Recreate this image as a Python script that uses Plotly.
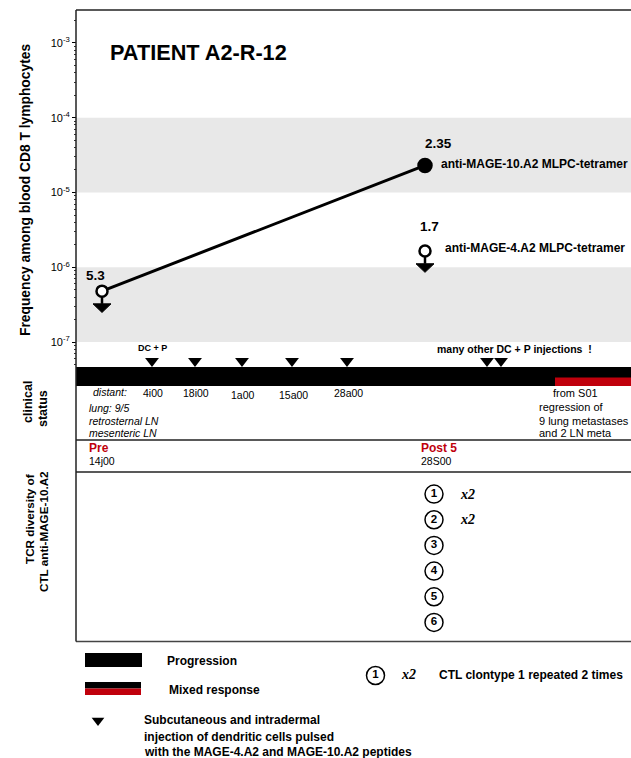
import numpy as np
import plotly.graph_objects as go

# ---------------- data ----------------
# Tetramer frequencies (among blood CD8 T lymphocytes)
time_pre = 102          # timeline position of "Pre" sample
time_post = 425         # timeline position of "Post 5" sample
mage10_x = [time_pre, time_post]
mage10_y = [4.8e-7, 2.3e-5]
mage10_labels = ["5.3", "2.35"]
mage10_below_limit = [True, False]
mage4_x = [time_post]
mage4_y = [1.65e-6]
mage4_labels = ["1.7"]

# injections (DC + P) along the timeline
inj_x = [152, 195, 242, 292, 347, 487, 501]
inj_dates = ["4i00", "18i00", "1a00", "15a00", "28a00"]
mixed_start = 555       # start of mixed response ("from S01")
timeline_start = 76
timeline_end = 631

# TCR diversity (Post 5)
clonotypes = [1, 2, 3, 4, 5, 6]
clone_repeats = [2, 2, 1, 1, 1, 1]

ytick_vals = [1e-7, 1e-6, 1e-5, 1e-4, 1e-3]
ytick_text = ["10<sup>-7</sup>", "10<sup>-6</sup>", "10<sup>-5</sup>",
              "10<sup>-4</sup>", "10<sup>-3</sup>"]
bands = [(1e-7, 1e-6), (1e-5, 1e-4)]

# ---------------- style ----------------
W, H = 631, 758
FONT = "Liberation Sans"
SERIF = "Liberation Serif"
RED = "#c0000c"
GREY = "#e8e8e8"

fig = go.Figure()

# grey bands
for lo, hi in bands:
    fig.add_trace(go.Scatter(
        x=[timeline_start, timeline_end, timeline_end, timeline_start, timeline_start],
        y=[lo, lo, hi, hi, lo], fill="toself", fillcolor=GREY,
        line=dict(width=0), mode="lines", hoverinfo="skip",
        xaxis="x", yaxis="y", showlegend=False))

# below-detection arrows (stem + flat triangle)
def down_arrow(x, v):
    L = np.log10(v)
    top = 10 ** (L - 0.17)
    tip = 10 ** (L - 0.285)
    fig.add_trace(go.Scatter(x=[x, x], y=[v, top], mode="lines",
                             line=dict(color="black", width=2.5),
                             xaxis="x", yaxis="y", showlegend=False, hoverinfo="skip"))
    fig.add_trace(go.Scatter(x=[x - 9, x + 9, x, x - 9], y=[top, top, tip, top],
                             mode="lines", fill="toself", fillcolor="black",
                             line=dict(color="black", width=1),
                             xaxis="x", yaxis="y", showlegend=False, hoverinfo="skip"))

for x, v, b in zip(mage10_x, mage10_y, mage10_below_limit):
    if b:
        down_arrow(x, v)
for x, v in zip(mage4_x, mage4_y):
    down_arrow(x, v)

# MAGE-10 line
fig.add_trace(go.Scatter(
    x=mage10_x, y=mage10_y, mode="lines",
    line=dict(color="black", width=3), xaxis="x", yaxis="y",
    showlegend=False, hoverinfo="skip"))
# markers: open if below detection, filled otherwise
fig.add_trace(go.Scatter(
    x=mage10_x, y=mage10_y, mode="markers",
    marker=dict(size=[11 if b else 13 for b in mage10_below_limit], opacity=1,
                color=["white" if b else "black" for b in mage10_below_limit],
                line=dict(color="black", width=2.5)),
    xaxis="x", yaxis="y", showlegend=False, hoverinfo="skip"))
fig.add_trace(go.Scatter(
    x=mage4_x, y=mage4_y, mode="markers",
    marker=dict(size=11, color="white", opacity=1, line=dict(color="black", width=2.5)),
    xaxis="x", yaxis="y", showlegend=False, hoverinfo="skip"))

# value labels
label_shift = {"5.3": (-7, 16), "2.35": (13, 22), "1.7": (4, 25)}
for xs, ys, labs in [(mage10_x, mage10_y, mage10_labels), (mage4_x, mage4_y, mage4_labels)]:
    for x, v, t in zip(xs, ys, labs):
        dx, dy = label_shift[t]
        fig.add_annotation(x=x, y=np.log10(v), xref="x", yref="y", text="<b>%s</b>" % t,
                           showarrow=False, xshift=dx, yshift=dy,
                           font=dict(size=13.5, family=FONT, color="black"))
fig.add_annotation(x=time_post, y=np.log10(mage10_y[1]), xref="x", yref="y",
                   text="<b>anti-MAGE-10.A2 MLPC-tetramer</b>", showarrow=False,
                   xanchor="left", xshift=14, yshift=1,
                   font=dict(size=12, family=FONT, color="black"))
fig.add_annotation(x=time_post, y=np.log10(mage4_y[0]), xref="x", yref="y",
                   text="<b>anti-MAGE-4.A2 MLPC-tetramer</b>", showarrow=False,
                   xanchor="left", xshift=18, yshift=3,
                   font=dict(size=12, family=FONT, color="black"))

# ---------------- timeline (y2 = page-like vertical scale) ----------------
shapes = []
shapes.append(dict(type="rect", xref="x", yref="y2", x0=timeline_start, x1=timeline_end,
                   y0=367, y1=386, fillcolor="black", line=dict(width=0), layer="above"))
shapes.append(dict(type="rect", xref="x", yref="y2", x0=mixed_start, x1=timeline_end,
                   y0=377.5, y1=386, fillcolor=RED, line=dict(width=0), layer="above"))
# frame lines
for yy in [440, 472]:
    shapes.append(dict(type="line", xref="x", yref="y2", x0=timeline_start, x1=timeline_end,
                       y0=yy, y1=yy, line=dict(color="#222222", width=1.3)))
shapes.append(dict(type="line", xref="x", yref="y2", x0=timeline_start, x1=timeline_end,
                   y0=641.5, y1=641.5, line=dict(color="#444444", width=1.6)))
shapes.append(dict(type="line", xref="x", yref="y2", x0=timeline_start, x1=timeline_end,
                   y0=10, y1=10, line=dict(color="#222222", width=1.3)))
shapes.append(dict(type="line", xref="x", yref="y2", x0=timeline_start, x1=timeline_start,
                   y0=10, y1=641.5, line=dict(color="#222222", width=1.5)))

# injection triangles
fig.add_trace(go.Scatter(x=inj_x, y=[361] * len(inj_x), mode="markers",
                         marker=dict(symbol="triangle-down", size=12, color="black", opacity=1),
                         xaxis="x", yaxis="y2", showlegend=False, hoverinfo="skip"))

def txt(x, y, s, size=11, bold=False, italic=False, color="black", anchor="center",
        angle=0, family=FONT):
    if bold:
        s = "<b>%s</b>" % s
    if italic:
        s = "<i>%s</i>" % s
    fig.add_annotation(x=x, y=y, xref="x", yref="y2", text=s, showarrow=False,
                       xanchor=anchor, yanchor="middle", textangle=angle,
                       font=dict(size=size, family=family, color=color))

txt(inj_x[0], 348, "DC + P", size=9, bold=True)
txt((inj_x[5] + inj_x[6]) / 2 + 20, 349, "many other DC + P injections  !", size=10.5, bold=True)
date_y = [393, 393, 395, 395, 393]
for x, d, yy in zip(inj_x, inj_dates, date_y):
    txt(x + 1, yy, d, size=10.5)

txt(91, 392, "distant:", size=10.5, italic=True, anchor="left")
txt(87, 408, "lung: 9/5", size=10.5, italic=True, anchor="left")
txt(87, 421, "retrosternal LN", size=10.5, italic=True, anchor="left")
txt(87, 432.5, "mesenteric LN", size=10.5, italic=True, anchor="left")

txt(551, 393, "from S01", size=11, anchor="left")
txt(537, 407, "regression of", size=11, anchor="left")
txt(537, 421, "9 lung metastases", size=11, anchor="left")
txt(537, 433, "and 2 LN meta", size=11, anchor="left")

txt(87, 448, "Pre", size=12, bold=True, color=RED, anchor="left")
txt(87, 461, "14j00", size=10.5, anchor="left")
txt(419, 448, "Post 5", size=12, bold=True, color=RED, anchor="left")
txt(419, 461, "28S00", size=10.5, anchor="left")

# side titles
txt(25, 190, "Frequency among blood CD8 T lymphocytes", size=13.8, bold=True, angle=-90)
txt(28, 402, "clinical", size=12.5, bold=True, angle=-90)
txt(43, 409, "status", size=12.5, bold=True, angle=-90)
txt(29, 519, "TCR diversity of", size=11.7, bold=True, angle=-90)
txt(43, 532, "CTL anti-MAGE-10.A2", size=11.7, bold=True, angle=-90)

txt(108, 52, "PATIENT A2-R-12", size=21.7, bold=True, anchor="left")

# ---------------- TCR clonotypes (y3) ----------------
fig.add_trace(go.Scatter(
    x=[time_post + 9] * len(clonotypes), y=clonotypes, mode="markers+text",
    text=["<b>%d</b>" % c for c in clonotypes], textposition="middle center",
    textfont=dict(size=11.5, family=FONT, color="black"),
    marker=dict(symbol="circle", size=18, color="white", opacity=1,
                line=dict(color="black", width=1.5)),
    xaxis="x", yaxis="y3", showlegend=False, hoverinfo="skip"))
for c, r in zip(clonotypes, clone_repeats):
    if r > 1:
        fig.add_annotation(x=time_post + 42, y=c, xref="x", yref="y3",
                           text="<b><i>x%d</i></b>" % r, showarrow=False,
                           font=dict(size=14, family=SERIF, color="black"))

# ---------------- legend ----------------
shapes.append(dict(type="rect", xref="x", yref="y2", x0=85, x1=142, y0=653, y1=667,
                   fillcolor="black", line=dict(width=0)))
shapes.append(dict(type="rect", xref="x", yref="y2", x0=85, x1=141, y0=682, y1=688.5,
                   fillcolor="black", line=dict(width=0)))
shapes.append(dict(type="rect", xref="x", yref="y2", x0=85, x1=141, y0=688.5, y1=695,
                   fillcolor=RED, line=dict(width=0)))
txt(165, 661, "Progression", size=12, bold=True, anchor="left")
txt(167, 690, "Mixed response", size=12, bold=True, anchor="left")
fig.add_trace(go.Scatter(x=[98], y=[720.5], mode="markers",
                         marker=dict(symbol="triangle-down", size=11, color="black", opacity=1),
                         xaxis="x", yaxis="y2", showlegend=False, hoverinfo="skip"))
txt(142, 720, "Subcutaneous and intradermal", size=12, bold=True, anchor="left")
txt(142, 737, "injection of dendritic cells pulsed", size=12, bold=True, anchor="left")
txt(142, 752, "with the MAGE-4.A2 and MAGE-10.A2 peptides", size=12, bold=True, anchor="left")

fig.add_trace(go.Scatter(x=[375.5], y=[675.5], mode="markers+text", text=["<b>1</b>"],
                         textposition="middle center",
                         textfont=dict(size=11.5, family=FONT, color="black"),
                         marker=dict(symbol="circle", size=18, color="white", opacity=1,
                                     line=dict(color="black", width=1.5)),
                         xaxis="x", yaxis="y2", showlegend=False, hoverinfo="skip"))
txt(408, 674, "<b><i>x2</i></b>", size=14, family=SERIF)
txt(437, 675, "CTL clontype 1 repeated 2 times", size=12, bold=True, anchor="left")

# ---------------- axes ----------------
top_px, bot_px = 10, 367
minor_vals = [k * 10.0 ** e for e in range(-8, -2) for k in range(2, 10)]
fig.update_layout(
    width=W, height=H, margin=dict(l=0, r=0, t=0, b=0, pad=0),
    template="none", paper_bgcolor="white", plot_bgcolor="rgba(0,0,0,0)",
    font=dict(family=FONT, color="black"),
    showlegend=False, shapes=shapes,
    xaxis=dict(domain=[0, 1], range=[0, W], visible=False, fixedrange=True),
    yaxis=dict(type="log", domain=[1 - bot_px / H, 1 - top_px / H],
               range=[-7.333, -2.56], anchor="free", position=timeline_start / W,
               showline=False, showgrid=False, zeroline=False,
               ticks="outside", ticklen=4, tickwidth=1, tickcolor="black",
               tickmode="array", tickvals=ytick_vals, ticktext=ytick_text,
               tickfont=dict(size=11, family=FONT),
               minor=dict(ticks="outside", ticklen=2, tickwidth=0.8, tickcolor="#333",
                          tickmode="array", tickvals=minor_vals, showgrid=False),
               automargin=False),
    yaxis2=dict(domain=[0, 1], range=[H, 0], visible=False, anchor="x", automargin=False),
    yaxis3=dict(domain=[1 - 641.5 / H, 1 - 472 / H], range=[6.742, 0.141],
                visible=False, anchor="x", automargin=False),
)

fig.write_html("out.html",
               config={"displayModeBar": False},
               post_script="document.body.style.margin='0px';"
                           "document.body.style.padding='0px';"
                           "document.documentElement.style.overflow='hidden';")
